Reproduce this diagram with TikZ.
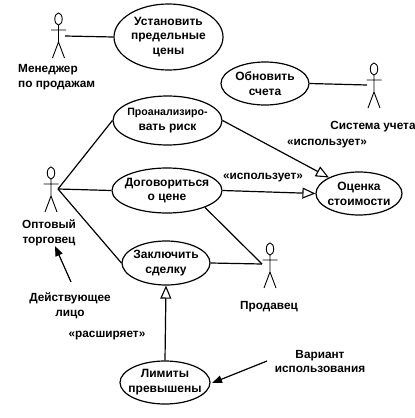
\documentclass[tikz,border=0pt]{standalone}
\usepackage{fontspec}
\setmainfont{Liberation Sans}
\usetikzlibrary{shapes.geometric,arrows.meta}
\tikzset{
  usecase/.style={ellipse,draw,line width=1.2pt,inner xsep=-30pt,inner ysep=-20pt,align=center,
    font=\fontsize{12}{14.8}\selectfont\bfseries},
  lbl/.style={inner sep=0pt,align=center,font=\fontsize{11.8}{14.8}\selectfont\bfseries},
  conn/.style={line width=1.2pt},
  extarrow/.style={conn,-{Triangle[open,length=13pt,width=11pt,line width=1.1pt]}},
  notearrow/.style={conn,-{Triangle[length=10pt,width=7.5pt]}},
  actorline/.style={line width=0.9pt},
  pics/actor/.style={code={
    \draw[actorline] (0,6) ellipse (3.7pt and 6pt);
    \draw[actorline] (0,12) -- (0,29) (-7.5,17) -- (7.5,17) (-6,45) -- (0,29) -- (6,45);
  }}
}
\begin{document}
\begin{tikzpicture}[x=1pt,y=-1pt]
\useasboundingbox (0,0) rectangle (415,418);
% use cases
\node[usecase,minimum width=109pt,minimum height=66pt] (e1) at (168.5,37) {Установить\\предельные\\цены};
\node[usecase,minimum width=88pt,minimum height=43pt] (e2) at (265,83.5) {Обновить\\счета};
\node[usecase,minimum width=109pt,minimum height=49pt] (e3) at (167.5,120.5) {{\fontsize{10.6}{14.8}\selectfont Проанализиро-}\\вать риск};
\node[usecase,minimum width=110pt,minimum height=45pt] (e4) at (167,190.5) {Договориться\\о цене};
\node[usecase,minimum width=88pt,minimum height=44pt] (e5) at (166,263) {Заключить\\сделку};
\node[usecase,minimum width=90pt,minimum height=43pt] (e6) at (165,382.5) {Лимиты\\превышены};
\node[usecase,minimum width=86pt,minimum height=43pt] (e7) at (359,193.5) {Оценка\\стоимости};
% actors
\pic at (58.5,13) {actor};
\pic at (374,63) {actor};
\pic at (51,167) {actor};
\pic at (270,243) {actor};
% connector ends at the actors
\coordinate (a1) at (65,36);
\coordinate (a2) at (367,85);
\coordinate (a3) at (58,189);
\coordinate (a4) at (262,264);
\coordinate (d1) at (71,282);
\coordinate (d2) at (55,246);
\coordinate (v1) at (267,361);
\coordinate (v2) at (212,383);
% connectors
\draw[conn] (a1) -- (e1.west);
\draw[conn] (e2.east) -- (a2);
\draw[conn] (a3) -- (e3.west);
\draw[conn] (a3) -- (e4.west);
\draw[conn] (a3) -- (e5.west);
\draw[conn] (a4) -- (e5.east);
\draw[conn] (a4) -- (e4.-24);
\draw[extarrow] (e3.east) -- (e7.152);
\draw[extarrow] (e4.east) -- (e7.west);
\draw[extarrow] (e6.north) -- (e5.south);
\draw[notearrow] (d1) -- (d2);
\draw[notearrow] (v1) -- (v2);
% labels
\node[lbl,align=left,anchor=north west] (t1) at (18,64) {Менеджер\\по продажам};
\node[lbl] (t2) at (373,127) {Система учета};
\node[lbl] (t3) at (327,144) {«использует»};
\node[lbl] (t4) at (263,178) {«использует»};
\node[lbl] (t5) at (49,232.5) {Оптовый\\торговец};
\node[lbl] (t6) at (70,306) {Действующее\\лицо};
\node[lbl] (t7) at (107,336) {«расширяет»};
\node[lbl] (t8) at (269,307) {Продавец};
\node[lbl] (t9) at (320,361.5) {Вариант\\использования};
\end{tikzpicture}
\end{document}
